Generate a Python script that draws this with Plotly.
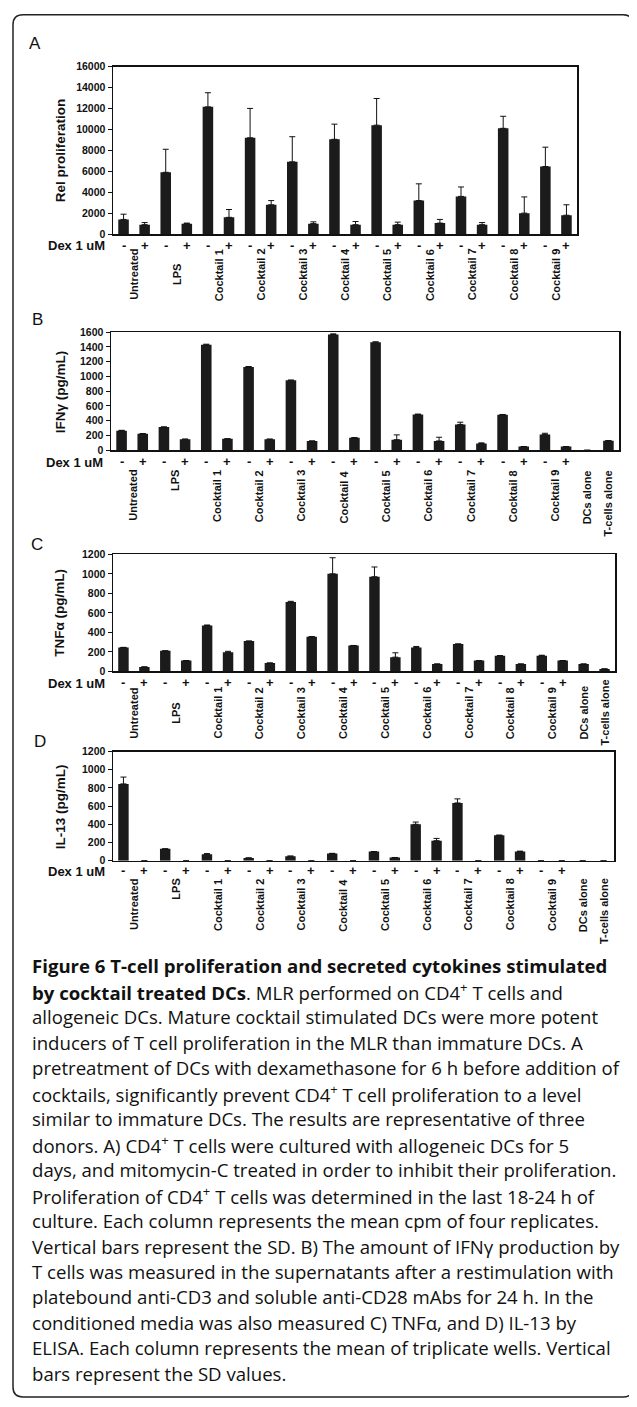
import plotly.graph_objects as go

# page is offset by the default 8px body margin; all positions below are page pixels
OFF = 8
W, H = 629, 1399

groups = ["Untreated", "LPS", "Cocktail 1", "Cocktail 2", "Cocktail 3", "Cocktail 4",
          "Cocktail 5", "Cocktail 6", "Cocktail 7", "Cocktail 8", "Cocktail 9"]
extras = ["DCs alone", "T-cells alone"]
dex_signs = ["-", "+"]

prolif = [1400, 900, 5900, 1000, 12150, 1600, 9200, 2800, 6900, 1000, 9050, 900,
          10400, 900, 3200, 1050, 3600, 900, 10100, 2000, 6450, 1800]
prolif_err = [500, 200, 2200, 50, 1350, 750, 2800, 400, 2400, 170, 1450, 300,
              2550, 240, 1600, 350, 900, 200, 1150, 1550, 1850, 1000]

ifng = [265, 225, 315, 150, 1430, 155, 1130, 150, 950, 125, 1570, 170,
        1465, 143, 485, 126, 350, 90, 480, 50, 215, 50, 0, 130]
ifng_err = [5, 0, 0, 0, 8, 0, 5, 0, 0, 0, 8, 0, 5, 65, 5, 50, 30, 10, 5, 0, 15, 0, 0, 0]

tnfa = [245, 45, 210, 110, 470, 195, 310, 85, 710, 355, 1000, 265,
        970, 145, 245, 75, 280, 110, 160, 75, 160, 110, 75, 25]
tnfa_err = [0, 0, 0, 0, 5, 10, 0, 0, 8, 0, 165, 0, 100, 45, 10, 0, 0, 0, 0, 0, 5, 0, 0, 0]

il13 = [845, 0, 130, 0, 70, 0, 30, 0, 50, 0, 80, 0,
        100, 35, 400, 220, 635, 0, 280, 100, 0, 0, 0, 0]
il13_err = [75, 0, 0, 0, 8, 0, 0, 0, 0, 0, 0, 0, 0, 0, 25, 25, 45, 0, 0, 5, 0, 0, 0, 0]

caption_lines = [
    "<b>Figure 6 T-cell proliferation and secreted cytokines stimulated</b>",
    "<b>by cocktail treated DCs</b>. MLR performed on CD4<sup>+</sup> T cells and",
    "allogeneic DCs. Mature cocktail stimulated DCs were more potent",
    "inducers of T cell proliferation in the MLR than immature DCs. A",
    "pretreatment of DCs with dexamethasone for 6 h before addition of",
    "cocktails, significantly prevent CD4<sup>+</sup> T cell proliferation to a level",
    "similar to immature DCs. The results are representative of three",
    "donors. A) CD4<sup>+</sup> T cells were cultured with allogeneic DCs for 5",
    "days, and mitomycin-C treated in order to inhibit their proliferation.",
    "Proliferation of CD4<sup>+</sup> T cells was determined in the last 18-24 h of",
    "culture. Each column represents the mean cpm of four replicates.",
    "Vertical bars represent the SD. B) The amount of IFN\u03b3 production by",
    "T cells was measured in the supernatants after a restimulation with",
    "platebound anti-CD3 and soluble anti-CD28 mAbs for 24 h. In the",
    "conditioned media was also measured C) TNF\u03b1, and D) IL-13 by",
    "ELISA. Each column represents the mean of triplicate wells. Vertical",
    "bars represent the SD values.",
]

def fx(p):
    return (p - OFF) / W

def fy(p):
    return 1 - (p - OFF) / H

AX_FONT = "Liberation Sans, Arial, sans-serif"

panels = [
    dict(letter="A", vals=prolif, err=prolif_err, n=22, xpx=(113, 577), ypx=(61, 230),
         yr=16000, dt=2000, title="Rel proliferation", lpos=(35, 38), dex_y=241,
         lab_y=271, lab_anchor="middle"),
    dict(letter="B", vals=ifng, err=ifng_err, n=24, xpx=(111, 619), ypx=(329, 448),
         yr=1600, dt=200, title="IFN\u03b3 (pg/mL)", lpos=(37, 316), dex_y=459,
         lab_y=466, lab_anchor="top"),
    dict(letter="C", vals=tnfa, err=tnfa_err, n=24, xpx=(113, 615), ypx=(553, 671),
         yr=1200, dt=200, title="TNF\u03b1 (pg/mL)", lpos=(37, 543), dex_y=682,
         lab_y=713, lab_anchor="middle"),
    dict(letter="D", vals=il13, err=il13_err, n=24, xpx=(113, 614), ypx=(752, 862),
         yr=1200, dt=200, title="IL-13 (pg/mL)", lpos=(40, 742), dex_y=872,
         lab_y=878, lab_anchor="top"),
]

fig = go.Figure()
annotations = []

for i, p in enumerate(panels):
    k = "" if i == 0 else str(i + 1)
    xa, ya = "x" + k, "y" + k
    n = p["n"]
    xs = list(range(n))
    errs = [e if e > 0 else None for e in p["err"]]
    fig.add_trace(go.Bar(
        x=xs, y=p["vals"], xaxis=xa, yaxis=ya,
        marker=dict(color="#1b1b1b", line=dict(width=0)),
        error_y=dict(type="data", symmetric=False, array=errs,
                     arrayminus=[0] * n, color="#111111", thickness=1, width=3),
        showlegend=False, hoverinfo="skip",
    ))
    fig.update_layout(**{
        "xaxis" + k: dict(domain=[fx(p["xpx"][0]), fx(p["xpx"][1])],
                          range=[-0.5, n - 0.5], anchor=ya,
                          showticklabels=False, ticks="", showgrid=False,
                          zeroline=False, showline=True, linecolor="#111111",
                          linewidth=1.5, mirror=True, fixedrange=True),
        "yaxis" + k: dict(domain=[fy(p["ypx"][1]), fy(p["ypx"][0])],
                          range=[0, p["yr"]], dtick=p["dt"], tickformat="d", anchor=xa,
                          ticks="outside", ticklen=4, tickwidth=1, tickcolor="#111111",
                          showgrid=False, zeroline=False, showline=True,
                          linecolor="#111111", linewidth=1.5, mirror=True,
                          tickfont=dict(family=AX_FONT, size=10.5, color="#111111",
                                        weight="bold"),
                          fixedrange=True),
    })
    annotations.append(dict(text=p["letter"], x=fx(p["lpos"][0]), y=fy(p["lpos"][1]),
                            xref="paper", yref="paper", showarrow=False,
                            xanchor="center", yanchor="middle",
                            font=dict(family=AX_FONT, size=17, color="#111111")))
    ymid = (p["ypx"][0] + p["ypx"][1]) / 2
    annotations.append(dict(text="<b>%s</b>" % p["title"], x=fx(60), y=fy(ymid),
                            xref="paper", yref="paper", showarrow=False, textangle=-90,
                            xanchor="center", yanchor="middle",
                            font=dict(family=AX_FONT, size=13.5, color="#111111")))
    annotations.append(dict(text="<b>Dex 1 uM</b>", x=fx(p["xpx"][0] - 6), y=fy(p["dex_y"] + 1),
                            xref="paper", yref="paper", showarrow=False,
                            xanchor="right", yanchor="middle",
                            font=dict(family=AX_FONT, size=13, color="#111111")))
    for j in range(22):
        annotations.append(dict(text="<b>%s</b>" % dex_signs[j % 2], x=j, y=fy(p["dex_y"]),
                                xref=xa, yref="paper", showarrow=False,
                                xanchor="center", yanchor="middle",
                                font=dict(family=AX_FONT, size=13, color="#111111")))
    labels = [(g, 2 * gi + 0.5) for gi, g in enumerate(groups)]
    if n == 24:
        labels += [(extras[0], 22), (extras[1], 23)]
    for text, xv in labels:
        annotations.append(dict(text="<b>%s</b>" % text, x=xv, y=fy(p["lab_y"]),
                                xref=xa, yref="paper", showarrow=False, textangle=-90,
                                xanchor="center", yanchor=p["lab_anchor"],
                                font=dict(family=AX_FONT, size=11, color="#111111")))

for li, line in enumerate(caption_lines):
    annotations.append(dict(text=line, x=fx(30), y=fy(968 + 25.7 * li),
                            xref="paper", yref="paper", showarrow=False,
                            xanchor="left", yanchor="middle", align="left",
                            font=dict(family="Open Sans, Noto Sans, sans-serif",
                                      size=18.6, color="#111111")))

x0, y0, x1, y1, r = 13, 8.8, 633, 1403, 10
path = (f"M {fx(x0 + r)},{fy(y0)} L {fx(x1 - r)},{fy(y0)} Q {fx(x1)},{fy(y0)} {fx(x1)},{fy(y0 + r)} "
        f"L {fx(x1)},{fy(y1 - r)} Q {fx(x1)},{fy(y1)} {fx(x1 - r)},{fy(y1)} "
        f"L {fx(x0 + r)},{fy(y1)} Q {fx(x0)},{fy(y1)} {fx(x0)},{fy(y1 - r)} "
        f"L {fx(x0)},{fy(y0 + r)} Q {fx(x0)},{fy(y0)} {fx(x0 + r)},{fy(y0)} Z")

fig.update_layout(
    width=W, height=H, autosize=False,
    margin=dict(l=0, r=0, t=0, b=0, pad=0),
    paper_bgcolor="white", plot_bgcolor="white",
    bargap=0.5,
    annotations=annotations,
    shapes=[dict(type="path", path=path, xref="paper", yref="paper",
                 line=dict(color="#222222", width=1.5), fillcolor="rgba(0,0,0,0)")],
)

fig.write_html("out.html", config={"displayModeBar": False, "staticPlot": True})
